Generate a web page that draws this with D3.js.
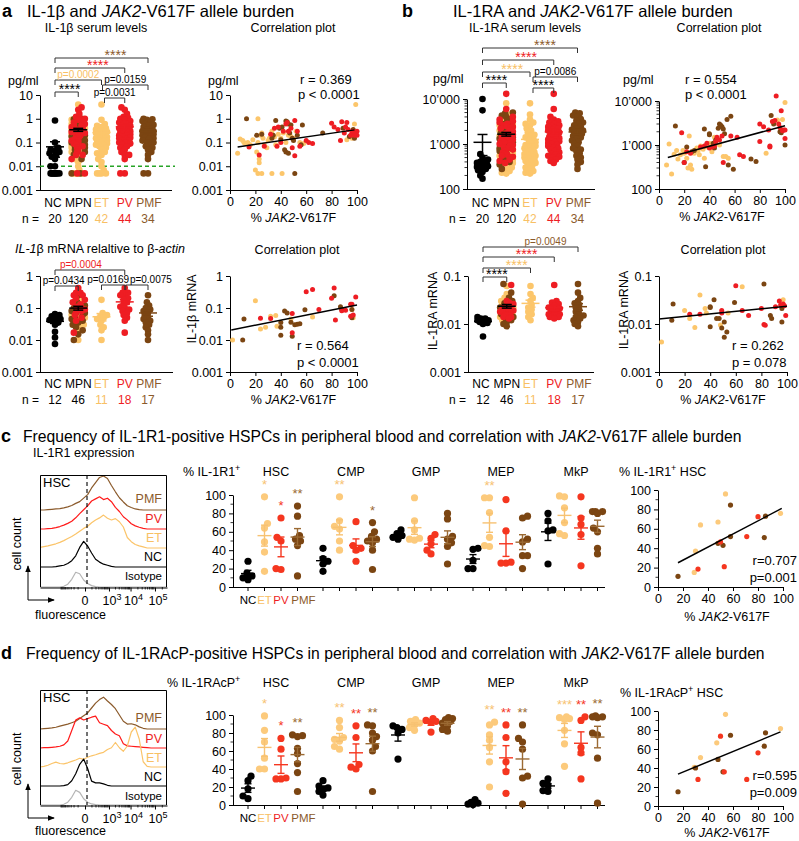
<!DOCTYPE html>
<html><head><meta charset="utf-8">
<script src="https://cdn.jsdelivr.net/npm/d3@7/dist/d3.min.js"></script>
<style>html,body{margin:0;padding:0;background:#fff;} svg{display:block;}</style>
</head><body>
<svg id="chart" width="799" height="841" viewBox="0 0 799 841"></svg>
<script>
// ================= DATA =================
const mainCats = ['NC','MPN','ET','PV','PMF'];
const nSerum = ['20','120','42','44','34'];
const nMrna = ['12','46','11','18','17'];

// IL-1beta serum (pg/ml)
const il1bSerumNC = [0.85,0.1,0.06,0.05,0.045,0.04,0.035,0.03,0.025,0.02,0.01,0.01,0.005,0.005,0.005,0.005,0.005,0.005,0.005,0.005];
const il1bSerumET = [4,0.9,0.6,0.5,0.45,0.4,0.35,0.3,0.3,0.28,0.25,0.22,0.2,0.2,0.18,0.17,0.15,0.15,0.14,0.13,0.12,0.12,0.11,0.1,0.1,0.09,0.08,0.08,0.07,0.06,0.05,0.04,0.035,0.03,0.02,0.015,0.01,0.007,0.005,0.005,0.005,0.005];
const il1bSerumPV = [3,2.4,1.6,1.2,1.1,1,0.9,0.8,0.7,0.6,0.6,0.5,0.5,0.45,0.4,0.4,0.35,0.3,0.3,0.28,0.25,0.25,0.22,0.2,0.2,0.18,0.16,0.15,0.14,0.12,0.12,0.1,0.1,0.09,0.08,0.07,0.06,0.05,0.04,0.03,0.03,0.02,0.005,0.005];
const il1bSerumPMF = [1,0.95,0.9,0.8,0.7,0.6,0.55,0.5,0.45,0.4,0.35,0.3,0.3,0.28,0.25,0.22,0.2,0.2,0.18,0.16,0.15,0.14,0.12,0.1,0.1,0.08,0.07,0.06,0.05,0.04,0.03,0.02,0.005,0.005];

// IL-1RA serum (pg/ml)
const il1raSerumNC = [10000,5600,600,500,450,420,400,380,360,350,340,330,320,310,300,280,260,240,200,170];
const il1raSerumET = [8000,4500,3500,2800,3000,2600,2200,2000,1800,1600,1500,1400,1300,1200,1100,1000,950,900,850,800,750,700,680,650,620,600,580,550,520,500,480,450,420,400,380,350,330,300,280,250,230,220];
const il1raSerumPV = [13000,6000,4000,3500,3200,3000,2800,2600,2500,2400,2300,2200,2100,2000,1900,1800,1700,1600,1500,1450,1400,1350,1300,1250,1200,1150,1100,1050,1000,950,900,850,800,750,700,650,600,580,550,520,500,450,420,380];
const il1raSerumPMF = [5000,4800,4300,4000,3600,3300,3000,2800,2600,2400,2200,2100,2000,1900,1800,1700,1600,1500,1400,1300,1200,1100,1000,900,800,750,700,620,550,500,450,400,350,280];

// IL-1beta mRNA relative to beta-actin
const il1bMrnaNC = [0.065,0.06,0.055,0.05,0.045,0.042,0.04,0.035,0.03,0.018,0.012,0.0075];
const il1bMrnaET = [0.18,0.07,0.06,0.055,0.05,0.045,0.04,0.03,0.025,0.02,0.01];
const il1bMrnaPV = [0.42,0.3,0.25,0.3,0.25,0.2,0.18,0.15,0.13,0.11,0.1,0.09,0.08,0.07,0.06,0.05,0.04,0.017];
const il1bMrnaPMF = [0.25,0.15,0.12,0.1,0.09,0.08,0.07,0.06,0.05,0.045,0.04,0.035,0.03,0.025,0.02,0.015,0.01];

// IL-1RA mRNA
const il1raMrnaNC = [0.014,0.013,0.013,0.012,0.012,0.012,0.011,0.011,0.011,0.0105,0.01,0.0055];
const il1raMrnaET = [0.062,0.042,0.035,0.03,0.025,0.022,0.02,0.018,0.016,0.014,0.012];
const il1raMrnaPV = [0.065,0.03,0.028,0.026,0.024,0.022,0.021,0.02,0.019,0.018,0.017,0.016,0.016,0.015,0.015,0.014,0.014,0.013];
const il1raMrnaPMF = [0.068,0.045,0.035,0.03,0.027,0.025,0.022,0.02,0.018,0.016,0.015,0.014,0.013,0.012,0.011,0.01,0.009];

// correlation plots: [ % JAK2-V617F , value ]
const corrA1ET = [[6,0.035],[8,0.14],[10,0.12],[11,0.1],[12,0.09],[14,0.1],[16,0.08],[18,0.13],[20,0.007],[21,0.04],[22,1.0],[22,0.1],[23,0.014],[23,0.02],[22,0.005],[24,0.2],[25,0.25],[25,0.005],[26,0.15],[27,0.08],[29,0.06],[30,0.12],[31,0.15],[33,0.005],[33,0.3],[34,0.2],[35,0.17],[36,0.08],[38,0.22],[40,0.15],[41,0.005],[42,0.25],[44,0.1],[46,0.2],[48,0.18],[50,0.15],[52,0.3],[55,0.1],[58,0.09],[92,0.13],[96,0.15],[98,0.6],[99,4.0]];
const corrA1PV = [[15,0.065],[23,0.03],[27,0.07],[32,0.22],[35,0.4],[37,0.07],[38,0.45],[40,0.1],[42,0.3],[44,0.6],[45,0.7],[46,0.3],[48,0.4],[49,0.06],[51,0.85],[51,0.028],[53,0.3],[55,0.07],[60,0.12],[62,0.1],[65,0.09],[80,0.65],[82,0.45],[85,0.35],[87,0.12],[88,0.75],[90,0.25],[91,0.45],[92,0.7],[93,0.35],[95,0.2],[96,0.25],[97,0.3],[98,0.2],[99,0.25],[100,0.2],[100,0.3]];
const corrA1PMF = [[13,1.0],[21,0.2],[25,0.22],[33,0.15],[34,0.2],[36,0.85],[39,0.4],[40,0.13],[41,0.45],[43,0.05],[44,0.04],[44,0.8],[45,0.75],[46,0.035],[46,0.6],[47,0.25],[48,0.55],[49,0.15],[50,0.12],[51,0.005],[53,0.2],[56,0.08],[57,0.55],[73,0.25],[89,0.4],[94,0.18],[97,0.35],[98,0.15]];
const fitA1 = [[6,0.065],[98,0.34]];

const corrB1ET = [[6,350],[8,1050],[10,220],[12,620],[14,750],[15,480],[17,600],[19,750],[20,650],[22,500],[23,300],[24,1600],[25,350],[26,280],[27,700],[28,650],[30,850],[31,750],[32,600],[33,950],[35,800],[36,500],[38,900],[40,1100],[42,700],[44,1500],[46,1400],[48,1000],[51,550],[53,550],[55,500],[85,650],[94,3700],[98,3800],[100,9300]];
const corrB1PV = [[18,1900],[20,400],[22,700],[25,650],[33,900],[36,950],[38,1100],[40,850],[42,900],[44,950],[45,1200],[46,1500],[48,1300],[50,1600],[51,400],[57,1600],[62,1500],[64,600],[67,550],[80,3000],[80,1200],[83,2600],[87,2200],[88,950],[88,900],[90,3400],[92,3600],[93,13000],[95,3000],[96,2500],[97,6000],[98,2100],[99,2200],[100,1400],[100,2200]];
const corrB1PMF = [[13,2700],[20,400],[22,900],[26,700],[28,750],[36,2300],[37,320],[40,1700],[40,1800],[43,1100],[44,850],[45,1300],[47,2400],[48,3000],[49,2800],[50,2600],[51,2300],[52,1800],[54,3800],[55,350],[57,4500],[59,280],[73,480],[77,420],[89,4700],[91,3000],[96,2000],[97,1900],[100,1000]];
const fitB1 = [[7,520],[100,2750]];

const corrA2ET = [[2,0.01],[20,0.17],[24,0.022],[28,0.025],[32,0.055],[36,0.058],[37,0.027],[48,0.045],[65,0.052],[96,0.09],[97,0.05]];
const corrA2PV = [[24,0.048],[32,0.047],[49,0.067],[49,0.017],[60,0.32],[65,0.38],[70,0.09],[80,0.2],[82,0.42],[83,0.042],[88,0.082],[91,0.085],[95,0.13],[96,0.13],[95,0.055],[97,0.06],[99,0.22]];
const corrA2PMF = [[10,0.01],[11,0.045],[40,0.035],[40,0.025],[40,0.014],[43,0.08],[45,0.07],[48,0.036],[49,0.013],[51,0.03],[53,0.031],[55,0.032],[59,0.088],[82,0.24],[87,0.11],[88,0.09],[96,0.09],[96,0.05]];
const fitA2 = [[1,0.0205],[100,0.124]];

const corrB2ET = [[2,0.0042],[20,0.019],[24,0.013],[28,0.0085],[32,0.04],[36,0.021],[37,0.017],[48,0.0095],[54,0.017],[65,0.06],[97,0.032]];
const corrB2PV = [[24,0.016],[32,0.016],[49,0.019],[49,0.017],[60,0.063],[65,0.019],[70,0.015],[80,0.021],[82,0.0098],[83,0.0094],[91,0.023],[94,0.03],[95,0.025],[97,0.026],[98,0.024],[99,0.015]];
const corrB2PMF = [[10,0.012],[11,0.026],[40,0.022],[40,0.023],[40,0.0088],[43,0.032],[45,0.013],[47,0.013],[49,0.0083],[51,0.011],[51,0.0053],[53,0.0068],[59,0.028],[82,0.068],[87,0.015],[88,0.013],[96,0.021],[96,0.011]];
const fitB2 = [[0,0.0127],[100,0.0235]];

// panels c / d : % positive HSPCs  (each group: [NC, ET, PV, PMF])
const hspcGroups = ['HSC','CMP','GMP','MEP','MkP'];
const subCats = ['NC','ET','PV','PMF'];
const il1r1HSC = [[28,15,12,10,8],[98,69,64,49,38,17],[75,54,50,20,19],[88,77,56,52,50,45,12]];
const il1r1CMP = [[42,31,28,25,17],[98,72,66,63,50,40],[71,45,42,40,28],[70,60,55,52,50,48,40,19]];
const il1r1GMP = [[62,58,56,54,52],[97,72,62,53,52,51],[57,53,47,40,36],[80,74,55,52,48,44,25]];
const il1r1MEP = [[42,41,29,20,20],[97,97,81,54,45,44],[95,61,26,26,27],[77,75,52,49,34,34,20]];
const il1r1MkP = [[80,72,62,61,25],[99,98,86,70,58,56],[98,75,68,57,23],[82,82,82,80,64,60,42,36]];
const il1racpHSC = [[32,27,18,10,7],[99,83,70,52,40,40],[74,62,30,29,29],[78,77,76,63,57,46,36,15]];
const il1racpCMP = [[27,21,19,18,15,11],[94,86,75,73,71,65,62],[88,75,45,42,40],[89,88,80,76,72,65,60,15]];
const il1racpGMP = [[88,86,84,80,51],[95,93,91,89,86,83],[96,94,93,92,81],[97,96,95,93,91,88,84,82]];
const il1racpMEP = [[6,3,2,1,0.5],[92,89,78,72,64,48,20],[89,75,48,37,13],[89,74,70,62,32,30,1]];
const il1racpMkP = [[29,24,22,16,15],[98,97,96,95,83,68,43],[98,94,64,58,29],[99,98,98,97,80,78,52,2]];
const starsC = [['HSC','ET','*'],['HSC','PV','*'],['HSC','PMF','**'],['CMP','ET','**'],['CMP','PMF','*'],['MEP','ET','**']];
const starsD = [['HSC','ET','*'],['HSC','PV','*'],['HSC','PMF','**'],['CMP','ET','**'],['CMP','PV','**'],['CMP','PMF','**'],['MEP','ET','**'],['MEP','PV','**'],['MEP','PMF','**'],['MkP','ET','***'],['MkP','PV','**'],['MkP','PMF','**']];

const corrC_ET = [[29,15],[30,37],[34,64],[48,67],[54,96],[98,76]];
const corrC_PV = [[32,18.5],[50,46.5],[53,21],[71,52],[80,72.5]];
const corrC_PMF = [[16,11],[48,45],[52,43],[58,84.5],[58,52],[85,51],[86,73]];
const fitC = [[16,25],[99,81]];
const corrD_ET = [[29,40.6],[34,51],[47,66.5],[54,96.5],[98,81.5]];
const corrD_PV = [[32,28],[50,73.5],[53,36],[71,28],[80,56]];
const corrD_PMF = [[16,15],[30,40],[48,49],[52,36],[58,74.5],[85,63],[86,77]];
const fitD = [[16,33.5],[98,78]];

// flow histograms: counts per 32-channel bin (0..1024)
const histC_PMF = [0,0,1,2,3,4,6,9,13,19,24,34,44,63,78,93,97,90,70,52,35,23,12,7,3,1,0,0,0,0,0,0,0];
const histC_PV  = [0,0,1,2,4,7,11,16,22,32,44,55,66,80,86,92,84,88,78,62,50,35,26,15,9,5,2,0,0,0,0,0,0];
const histC_ET  = [2,4,6,9,12,16,21,27,33,40,48,56,62,72,80,86,94,85,80,84,75,60,30,18,10,6,3,0,0,0,0,0,0];
const histC_NC  = [0,0,0,0,1,3,5,10,18,32,56,73,60,40,22,14,8,5,2,0,0,0,0,0,0,0,0,0,0,0,0,0,0];
const histC_Iso = [0,0,0,0,0,0,2,8,22,42,38,20,10,4,1,0,0,0,0,0,0,0,0,0,0,0,0,0,0,0,0,0,0];
const histD_PMF = [0,1,2,3,5,8,11,14,18,22,30,38,46,60,74,84,91,80,70,58,40,22,14,15,12,6,2,0,0,0,0,0,0];
const histD_PV  = [0,1,1,2,3,5,9,20,50,80,86,80,84,88,91,72,68,64,50,40,35,12,6,5,4,3,2,1,0,0,0,0,0];
const histD_ET  = [0,2,5,10,14,10,9,12,16,20,25,22,28,32,35,39,42,50,55,70,55,45,60,100,114,80,15,2,0,0,0,0,0];
const histD_NC  = [0,0,0,0,0,0,1,4,15,35,62,77,50,14,9,9,6,2,0,0,0,0,0,0,0,0,0,0,0,0,0,0,0];
const histD_Iso = [0,0,0,0,0,0,2,8,22,42,36,18,8,3,1,0,0,0,0,0,0,0,0,0,0,0,0,0,0,0,0,0,0];
const histRowLabels = ['PMF','PV','ET','NC','Isotype'];
const histTickCh = [363,556,730,927];
const histTickBase = ['0','10','10','10'];
const histTickExp = ['','3','4','5'];

// ================= STYLE =================
const F = '"Liberation Sans", Arial, Helvetica, sans-serif';
const COL = {NC:'#000000', MPN:'#000000', ET:'#fcc66b', PV:'#ee1d23', PMF:'#7b4512'};
const TXT = {NC:'#000000', MPN:'#000000', ET:'#f8c064', PV:'#ee1d23', PMF:'#8b5a2b'};
const COL2 = {NC:'#000000', ET:'#fcca7c', PV:'#f5361f', PMF:'#7b4512'};
const LINE2 = {NC:'#000000', ET:'#f7c272', PV:'#f5361f', PMF:'#9b6a33'};
const HCOL = {PMF:'#8b5a2b', PV:'#ff1a1a', ET:'#fbc469', NC:'#000000', Isotype:'#b5b5b5'};
const catShift = {NC: -2, MPN: 0, ET: 0, PV: 0, PMF: 1};

const svg = d3.select('#chart');
svg.append('rect').attr('width',799).attr('height',841).attr('fill','#fff');
const defs = svg.append('defs');
defs.append('marker').attr('id','arr').attr('viewBox','0 0 8 8').attr('refX',7).attr('refY',4)
  .attr('markerWidth',7).attr('markerHeight',7).attr('orient','auto')
  .append('path').attr('d','M0,0.8 L8,4 L0,7.2 z').attr('fill','#000');

function addText(x, y, segs, o = {}) {
  const size = o.size || 13;
  const t = svg.append('text').attr('x', x).attr('y', y)
    .attr('font-size', size).attr('fill', o.fill || '#000')
    .attr('text-anchor', o.anchor || 'start').attr('font-family', F);
  if (o.weight) t.attr('font-weight', o.weight);
  if (o.rotate) t.attr('transform', `rotate(-90 ${x} ${y})`);
  if (typeof segs === 'string') segs = [[segs]];
  let sup = false;
  segs.forEach(([s, st]) => {
    const ts = t.append('tspan').text(s);
    if (st && st.includes('i')) ts.attr('font-style', 'italic');
    if (st && st.includes('s')) { ts.attr('font-size', size * 0.72).attr('dy', -size * 0.42); sup = true; }
    else if (sup) { ts.attr('dy', size * 0.42); sup = false; }
  });
  return t;
}
function styleAxis(g, size) {
  g.attr('font-family', F);
  g.selectAll('text').attr('font-size', size).attr('font-family', F).attr('fill', '#000');
  g.selectAll('path,line').attr('stroke', '#000').attr('stroke-width', 1);
}
function swarm(ys, maxW, minD, step) {
  const order = d3.range(ys.length).sort((a, b) => ys[b] - ys[a] || a - b);
  const placed = [], off = new Array(ys.length);
  order.forEach((i, k) => {
    const sgn = k % 2 ? -1 : 1;
    const cands = [0];
    for (let s = step; s <= maxW + 1e-9; s += step) cands.push(sgn * s, -sgn * s);
    let best = 0, bestD = -1;
    for (const c of cands) {
      let md = Infinity;
      for (const p of placed) { const dx = p[0] - c, dy = p[1] - ys[i]; const d = Math.sqrt(dx*dx + dy*dy); if (d < md) md = d; }
      if (md >= minD) { best = c; bestD = md; break; }
      if (md > bestD + 0.01) { bestD = md; best = c; }
    }
    off[i] = best; placed.push([best, ys[i]]);
  });
  return off;
}
function minorLog(x0, y, dom) {
  const lo = Math.round(Math.log10(dom[0])), hi = Math.round(Math.log10(dom[1]));
  for (let d = lo; d < hi; d++) for (let k = 2; k <= 9; k++) {
    const v = k * Math.pow(10, d);
    svg.append('line').attr('x1', x0 - 2.5).attr('x2', x0 + 0.5).attr('y1', y(v)).attr('y2', y(v)).attr('stroke', '#000').attr('stroke-width', 0.8);
  }
}

// ============ dot plot (panels a,b) ============
function dotPanel(o) {
  const x = d3.scalePoint().domain(mainCats).range(o.xr);
  const y = d3.scaleLog().domain(o.dom).range(o.yr);
  const ax = svg.append('g').attr('transform', `translate(${o.ax},0)`)
    .call(d3.axisLeft(y).tickValues(o.ticks).tickFormat((d, i) => o.labels[i]).tickSize(4).tickSizeOuter(0));
  styleAxis(ax, 12.5);
  if (o.minor) minorLog(o.ax, y, o.dom);
  svg.append('line').attr('x1', o.ax).attr('x2', o.xe).attr('y1', o.yr[0] + 0.5).attr('y2', o.yr[0] + 0.5).attr('stroke', '#000');
  if (o.refLine) {
    svg.append('line').attr('x1', o.ax).attr('x2', o.xe + 3).attr('y1', y(o.refLine)).attr('y2', y(o.refLine))
      .attr('stroke', '#27a327').attr('stroke-width', 1.3).attr('stroke-dasharray', '4,3');
  }
  const d = o.data;
  const cols = [
    {c: 'NC', pts: d.NC.map(v => ({v, g: 'NC'})), w: 5.5},
    {c: 'MPN', pts: [].concat(d.ET.map(v => ({v, g: 'ET'})), d.PMF.map(v => ({v, g: 'PMF'})), d.PV.map(v => ({v, g: 'PV'}))), w: 7.5},
    {c: 'ET', pts: d.ET.map(v => ({v, g: 'ET'})), w: 6.5},
    {c: 'PV', pts: d.PV.map(v => ({v, g: 'PV'})), w: 6.5},
    {c: 'PMF', pts: d.PMF.map(v => ({v, g: 'PMF'})), w: 6.5}
  ];
  cols.forEach(col => {
    const ys = col.pts.map(p => y(p.v));
    const offs = swarm(ys, col.w, 3.8, 1.1);
    const cx = x(col.c);
    svg.append('g').selectAll('circle').data(col.pts).join('circle')
      .attr('cx', (p, i) => cx + offs[i]).attr('cy', (p, i) => ys[i]).attr('r', 3.3).attr('fill', p => COL[p.g]);
  });
  cols.forEach(col => {
    const vals = col.pts.map(p => p.v);
    const m = d3.mean(vals), se = d3.deviation(vals) / Math.sqrt(vals.length);
    const lo = Math.max(m - se, o.dom[0]);
    const cx = x(col.c), clr = (col.c === 'MPN' || col.c === 'NC') ? '#000' : COL[col.c];
    const g = svg.append('g').attr('stroke', clr).attr('stroke-width', 1.5);
    g.append('line').attr('x1', cx - 9).attr('x2', cx + 9).attr('y1', y(m)).attr('y2', y(m));
    g.append('line').attr('x1', cx).attr('x2', cx).attr('y1', y(lo)).attr('y2', y(m + se));
    g.append('line').attr('x1', cx - 5).attr('x2', cx + 5).attr('y1', y(lo)).attr('y2', y(lo));
    g.append('line').attr('x1', cx - 5).attr('x2', cx + 5).attr('y1', y(m + se)).attr('y2', y(m + se));
  });
  mainCats.forEach(c => addText(x(c) + catShift[c], o.catY, c, {size: 12, anchor: 'middle', fill: TXT[c]}));
  addText(o.nX, o.catY + 16, 'n =', {size: 12});
  o.n.forEach((n, i) => addText(x(mainCats[i]), o.catY + 16, n, {size: 12, anchor: 'middle', fill: TXT[mainCats[i]]}));
  o.brackets.forEach((b, i) => {
    const L = o.bLayout[i];
    const xa = x(b[0]) + (L.x1 || 0), xb = x(b[1]) + (L.x2 || 0), yy = L.y;
    svg.append('path').attr('d', `M${xa},${yy + 5}V${yy}H${xb}V${yy + 5}`).attr('fill', 'none').attr('stroke', '#333').attr('stroke-width', 1);
    const star = b[2].startsWith('*');
    addText((xa + xb) / 2 + (L.dx || 0), star ? yy + 2 : yy - 2.4, b[2], {size: star ? 14 : 10, anchor: 'middle', fill: TXT[b[3]]});
  });
  return {x, y};
}

// ============ correlation plot (log y) ============
function corrPanel(o) {
  const x = d3.scaleLinear().domain([0, 100]).range(o.xr);
  const y = d3.scaleLog().domain(o.dom).range(o.yr);
  const ay = svg.append('g').attr('transform', `translate(${o.xr[0]},0)`)
    .call(d3.axisLeft(y).tickValues(o.ticks).tickFormat((d, i) => o.labels[i]).tickSize(4).tickSizeOuter(0));
  styleAxis(ay, 12.5);
  if (o.minor) minorLog(o.xr[0], y, o.dom);
  const axx = svg.append('g').attr('transform', `translate(0,${o.yr[0]})`)
    .call(d3.axisBottom(x).tickValues([0, 20, 40, 60, 80, 100]).tickSize(4).tickSizeOuter(0));
  styleAxis(axx, 12.5);
  o.series.forEach(s => {
    svg.append('g').selectAll('circle').data(s.pts).join('circle')
      .attr('cx', p => x(p[0])).attr('cy', p => y(p[1])).attr('r', 2.5).attr('fill', COL[s.g]);
  });
  svg.append('path').attr('d', d3.line().x(p => x(p[0])).y(p => y(p[1]))(o.fit)).attr('stroke', '#000').attr('stroke-width', 1.5).attr('fill', 'none');
  addText((o.xr[0] + o.xr[1]) / 2, o.yr[0] + 32, [['% '], ['JAK2', 'i'], ['-V617F']], {size: 12.5, anchor: 'middle'});
}

// ================= PANEL a =================
addText(2, 17, 'a', {size: 18, weight: 'bold'});
addText(27, 17, [['IL-1β and '], ['JAK2', 'i'], ['-V617F allele burden']], {size: 16.5});
addText(96, 32, 'IL-1β serum levels', {size: 12.5, anchor: 'middle'});
addText(8, 85, 'pg/ml', {size: 12.5});
dotPanel({xr: [55, 148], dom: [0.001, 10], yr: [190, 95], ax: 40, xe: 172,
  ticks: [0.001, 0.01, 0.1, 1, 10], labels: ['0.001', '0.01', '0.1', '1', '10'], refLine: 0.01,
  data: {NC: il1bSerumNC, ET: il1bSerumET, PV: il1bSerumPV, PMF: il1bSerumPMF},
  catY: 207, nX: 22, n: nSerum,
  brackets: [['NC','PMF','****','PMF'],['NC','PV','****','PV'],['NC','ET','p=0.0002','ET'],['ET','PMF','p=0.0159','NC'],['NC','MPN','****','NC'],['ET','PV','p=0.0031','NC']],
  bLayout: [{y: 58, dx: 14}, {y: 68, dx: 8}, {y: 80}, {y: 85, x1: 1}, {y: 92, dx: 3}, {y: 98, x1: 3}]
});
addText(293, 32, 'Correlation plot', {size: 12.5, anchor: 'middle'});
addText(208, 85, 'pg/ml', {size: 12.5});
addText(300, 84, 'r = 0.369', {size: 13});
addText(298, 99, 'p < 0.0001', {size: 13});
corrPanel({xr: [230, 357], dom: [0.001, 10], yr: [190, 95], ticks: [0.001, 0.01, 0.1, 1, 10], labels: ['0.001', '0.01', '0.1', '1', '10'],
  series: [{g: 'ET', pts: corrA1ET}, {g: 'PMF', pts: corrA1PMF}, {g: 'PV', pts: corrA1PV}], fit: fitA1});

addText(100, 253, [['IL-1', 'i'], ['β mRNA relaltive to β-'], ['actin', 'i']], {size: 12.5, anchor: 'middle'});
dotPanel({xr: [55, 148], dom: [0.001, 1], yr: [372, 276], ax: 40, xe: 173,
  ticks: [0.001, 0.01, 0.1, 1], labels: ['0.001', '0.01', '0.1', '1'],
  data: {NC: il1bMrnaNC, ET: il1bMrnaET, PV: il1bMrnaPV, PMF: il1bMrnaPMF},
  catY: 388, nX: 22, n: nMrna,
  brackets: [['NC','PV','p=0.0004','PV'],['NC','MPN','p=0.0434','NC'],['ET','PV','p=0.0169','NC'],['PV','PMF','p=0.0075','NC']],
  bLayout: [{y: 270, dx: -9}, {y: 286, dx: -3}, {y: 285, dx: -5}, {y: 285, dx: 14, x1: 1}]
});
addText(297, 254, 'Correlation plot', {size: 12.5, anchor: 'middle'});
addText(196, 309, 'IL-1β mRNA', {size: 12.5, anchor: 'middle', rotate: true});
addText(297, 350, 'r = 0.564', {size: 13});
addText(297, 367, 'p < 0.0001', {size: 13});
corrPanel({xr: [230, 357], dom: [0.001, 1], yr: [372, 276], ticks: [0.001, 0.01, 0.1, 1], labels: ['0.001', '0.01', '0.1', '1'],
  series: [{g: 'ET', pts: corrA2ET}, {g: 'PMF', pts: corrA2PMF}, {g: 'PV', pts: corrA2PV}], fit: fitA2});

// ================= PANEL b =================
addText(402, 17, 'b', {size: 18, weight: 'bold'});
addText(453, 17, [['IL-1RA and '], ['JAK2', 'i'], ['-V617F allele burden']], {size: 16.5});
addText(525, 32, 'IL-1RA serum levels', {size: 12.5, anchor: 'middle'});
addText(433, 83, 'pg/ml', {size: 12.5});
dotPanel({xr: [482.5, 577.5], dom: [100, 10000], yr: [189, 99], ax: 467, xe: 595,
  ticks: [100, 1000, 10000], labels: ['100', '1’000', '10’000'], minor: true,
  data: {NC: il1raSerumNC, ET: il1raSerumET, PV: il1raSerumPV, PMF: il1raSerumPMF},
  catY: 207, nX: 449, n: nSerum,
  brackets: [['NC','PMF','****','PMF'],['NC','PV','****','PV'],['NC','ET','****','ET'],['ET','PMF','p=0.0086','NC'],['NC','MPN','****','NC'],['ET','PV','****','NC']],
  bLayout: [{y: 48, dx: 15}, {y: 60, dx: 8}, {y: 72, dx: 6}, {y: 77, x1: 3}, {y: 83, dx: 2}, {y: 88, x1: 3}]
});
addText(719, 32, 'Correlation plot', {size: 12.5, anchor: 'middle'});
addText(623, 84, 'pg/ml', {size: 12.5});
addText(685, 84, 'r = 0.554', {size: 13});
addText(685, 99, 'p < 0.0001', {size: 13});
corrPanel({xr: [659, 785], dom: [100, 10000], yr: [189, 101], ticks: [100, 1000, 10000], labels: ['100', '1’000', '10’000'], minor: true,
  series: [{g: 'ET', pts: corrB1ET}, {g: 'PMF', pts: corrB1PMF}, {g: 'PV', pts: corrB1PV}], fit: fitB1});

addText(437, 311, 'IL-1RA mRNA', {size: 12.5, anchor: 'middle', rotate: true});
dotPanel({xr: [483, 578], dom: [0.001, 0.1], yr: [372, 276], ax: 468, xe: 594,
  ticks: [0.001, 0.01, 0.1], labels: ['0.001', '0.01', '0.1'],
  data: {NC: il1raMrnaNC, ET: il1raMrnaET, PV: il1raMrnaPV, PMF: il1raMrnaPMF},
  catY: 388, nX: 449, n: nMrna,
  brackets: [['NC','PMF','p=0.0049','PMF'],['NC','PV','****','PV'],['NC','ET','****','ET'],['NC','MPN','****','NC']],
  bLayout: [{y: 247, dx: 15}, {y: 257, dx: 8}, {y: 268, dx: 10}, {y: 277, dx: 2}]
});
addText(723, 254, 'Correlation plot', {size: 12.5, anchor: 'middle'});
addText(628, 310, 'IL-1RA mRNA', {size: 12.5, anchor: 'middle', rotate: true});
addText(732, 350, 'r = 0.262', {size: 13});
addText(732, 367, 'p = 0.078', {size: 13});
corrPanel({xr: [659, 787], dom: [0.001, 0.1], yr: [372, 276], ticks: [0.001, 0.01, 0.1], labels: ['0.001', '0.01', '0.1'],
  series: [{g: 'ET', pts: corrB2ET}, {g: 'PMF', pts: corrB2PMF}, {g: 'PV', pts: corrB2PV}], fit: fitB2});

// ================= histograms =================
function histPanel(o) {
  const x = d3.scaleLinear().domain([0, 1024]).range([40, 167]);
  const h = d3.scaleLinear().domain([0, 100]).range([0, 35]);
  const bins = d3.range(0, 1025, 32);
  const bottom = o.base[4];
  o.curves.forEach((c, i) => {
    const key = histRowLabels[i];
    svg.append('path').attr('d', d3.line().x((v, j) => x(bins[j])).y(v => o.base[i] - h(v))(c))
      .attr('fill', 'none').attr('stroke', HCOL[key]).attr('stroke-width', 1.2).attr('stroke-linejoin', 'round');
  });
  svg.append('path').attr('d', `M40.5,${bottom}V${o.top + 0.5}H166.5V${bottom}`).attr('fill', 'none').attr('stroke', '#000');
  const ax = svg.append('g').attr('transform', `translate(0,${bottom + 0.5})`)
    .call(d3.axisBottom(x).tickValues(histTickCh).tickFormat('').tickSize(4).tickSizeOuter(0));
  styleAxis(ax, 12);
  const minors = [];
  for (let v = 100; v <= 900; v += 100) {
    const f = 193 * Math.log10(1 + v / 100) / Math.log10(11);
    minors.push(363 + f, 363 - f);
  }
  minors.push(363 - 193);
  [[556, 730], [730, 927], [927, 1124]].forEach(([a, b]) => { for (let k = 2; k <= 9; k++) minors.push(a + Math.log10(k) * (b - a)); });
  minors.filter(c => c > 20 && c < 1020).forEach(c => {
    svg.append('line').attr('x1', x(c)).attr('x2', x(c)).attr('y1', bottom).attr('y2', bottom + 2.5).attr('stroke', '#000').attr('stroke-width', 0.8);
  });
  histTickCh.forEach((c, i) => {
    const segs = histTickExp[i] ? [[histTickBase[i]], [histTickExp[i], 's']] : [[histTickBase[i]]];
    addText(x(c) + (histTickExp[i] ? 3 : 0), bottom + 18, segs, {size: 12.5, anchor: 'middle'});
  });
  svg.append('line').attr('x1', x(379)).attr('x2', x(379)).attr('y1', o.top).attr('y2', bottom)
    .attr('stroke', '#000').attr('stroke-width', 1.1).attr('stroke-dasharray', '4,3');
  addText(43, o.top + 12, 'HSC', {size: 13});
  histRowLabels.forEach((l, i) => addText(162, o.labelY[i], l, {size: l === 'Isotype' ? 11.5 : 12.5, anchor: 'end', fill: l === 'Isotype' ? '#000' : TXT[l]}));
  svg.append('line').attr('x1', 28).attr('x2', 28).attr('y1', bottom + 13).attr('y2', bottom - 21).attr('stroke', '#000').attr('marker-end', 'url(#arr)');
  svg.append('line').attr('x1', 28).attr('x2', 54).attr('y1', bottom + 13).attr('y2', bottom + 13).attr('stroke', '#000').attr('marker-end', 'url(#arr)');
  addText(21, o.ccY, 'cell count', {size: 12.5, anchor: 'middle', rotate: true});
  addText(35, o.flY, 'fluorescence', {size: 12.5});
}

// ================= HSPC dot plots =================
function hspcPanel(o) {
  const y = d3.scaleLinear().domain([0, 100]).range([o.bot, o.top]);
  const xg = d3.scalePoint().domain(hspcGroups).range([248, 548]);
  const xs = d3.scalePoint().domain(subCats).range([0, 49.5]);
  const ax = svg.append('g').attr('transform', `translate(233,0)`)
    .call(d3.axisLeft(y).tickValues([0, 20, 40, 60, 80, 100]).tickSize(4).tickSizeOuter(0));
  styleAxis(ax, 12.5);
  [10, 30, 50, 70, 90].forEach(v => svg.append('line').attr('x1', 230.5).attr('x2', 233.5).attr('y1', y(v)).attr('y2', y(v)).attr('stroke', '#000').attr('stroke-width', 0.8));
  svg.append('line').attr('x1', 233).attr('x2', 605).attr('y1', o.bot + 0.5).attr('y2', o.bot + 0.5).attr('stroke', '#000');
  hspcGroups.forEach((g, gi) => {
    addText(xg(g) + 28, o.labY, g, {size: 12.5, anchor: 'middle'});
    subCats.forEach((s, si) => {
      const cx = xg(g) + xs(s);
      svg.append('line').attr('x1', cx).attr('x2', cx).attr('y1', o.bot).attr('y2', o.bot + 4).attr('stroke', '#000');
      const vals = o.data[gi][si];
      const ys = vals.map(v => y(v));
      const offs = swarm(ys, 5, 5.2, 1);
      svg.append('g').selectAll('circle').data(vals).join('circle')
        .attr('cx', (v, i) => cx + offs[i]).attr('cy', (v, i) => ys[i]).attr('r', 3.6).attr('fill', COL2[s]);
      const m = d3.mean(vals), se = d3.deviation(vals) / Math.sqrt(vals.length);
      const gg = svg.append('g').attr('stroke', LINE2[s]).attr('stroke-width', 1.4);
      gg.append('line').attr('x1', cx - 7).attr('x2', cx + 7).attr('y1', y(m)).attr('y2', y(m));
      gg.append('line').attr('x1', cx).attr('x2', cx).attr('y1', y(m - se)).attr('y2', y(m + se));
      gg.append('line').attr('x1', cx - 3.5).attr('x2', cx + 3.5).attr('y1', y(m - se)).attr('y2', y(m - se));
      gg.append('line').attr('x1', cx - 3.5).attr('x2', cx + 3.5).attr('y1', y(m + se)).attr('y2', y(m + se));
    });
  });
  subCats.forEach(s => addText(xg('HSC') + xs(s) + (s === 'PMF' ? 6 : 0), o.catY, s, {size: 11.5, anchor: 'middle', fill: s === 'NC' ? '#000' : TXT[s]}));
  o.stars.forEach(([g, s, t]) => {
    const gi = hspcGroups.indexOf(g), si = subCats.indexOf(s);
    const mx = d3.max(o.data[gi][si]);
    addText(xg(g) + xs(s), y(mx) - 8, t, {size: 13, anchor: 'middle', fill: LINE2[s]});
  });
}

function corrLin(o) {
  const x = d3.scaleLinear().domain([0, 100]).range([658, 783]);
  const y = d3.scaleLinear().domain([0, 100]).range([o.bot, o.top]);
  const ay = svg.append('g').attr('transform', `translate(658,0)`)
    .call(d3.axisLeft(y).tickValues([0, 20, 40, 60, 80, 100]).tickSize(4).tickSizeOuter(0));
  styleAxis(ay, 12.5);
  [10, 30, 50, 70, 90].forEach(v => svg.append('line').attr('x1', 655.5).attr('x2', 658.5).attr('y1', y(v)).attr('y2', y(v)).attr('stroke', '#000').attr('stroke-width', 0.8));
  const axx = svg.append('g').attr('transform', `translate(0,${o.bot})`)
    .call(d3.axisBottom(x).tickValues([0, 20, 40, 60, 80, 100]).tickSize(4).tickSizeOuter(0));
  styleAxis(axx, 12.5);
  o.series.forEach(s => {
    svg.append('g').selectAll('circle').data(s.pts).join('circle')
      .attr('cx', p => x(p[0])).attr('cy', p => y(p[1])).attr('r', 2.6).attr('fill', COL2[s.g]);
  });
  svg.append('path').attr('d', d3.line().x(p => x(p[0])).y(p => y(p[1]))(o.fit)).attr('stroke', '#000').attr('stroke-width', 1.5).attr('fill', 'none');
  addText(727, o.jY, [['% '], ['JAK2', 'i'], ['-V617F']], {size: 12.5, anchor: 'middle'});
  addText(797, o.rY, o.r, {size: 13, anchor: 'end'});
  addText(797, o.rY + 17, o.p, {size: 13, anchor: 'end'});
}

// ================= PANEL c =================
addText(1, 442, 'c', {size: 18, weight: 'bold'});
addText(23, 442, [['Frequency of IL-1R1-positive HSPCs in peripheral blood and correlation with '], ['JAK2', 'i'], ['-V617F allele burden']], {size: 15.7});
addText(33, 457, 'IL-1R1 expression', {size: 12.5});
histPanel({top: 475, base: [510, 529, 548, 567, 587], curves: [histC_PMF, histC_PV, histC_ET, histC_NC, histC_Iso],
  labelY: [503, 523, 542, 561, 580], ccY: 544, flY: 619});
addText(183, 476, [['% IL-1R1'], ['+', 's']], {size: 12.5});
hspcPanel({top: 495, bot: 587, labY: 476, catY: 604, stars: starsC,
  data: [il1r1HSC, il1r1CMP, il1r1GMP, il1r1MEP, il1r1MkP]});
addText(619, 476, [['% IL-1R1'], ['+', 's'], [' HSC']], {size: 12.5});
corrLin({top: 490, bot: 587, fit: fitC, r: 'r=0.707', p: 'p=0.001', rY: 565, jY: 621,
  series: [{g: 'ET', pts: corrC_ET}, {g: 'PMF', pts: corrC_PMF}, {g: 'PV', pts: corrC_PV}]});

// ================= PANEL d =================
addText(1, 659, 'd', {size: 18, weight: 'bold'});
addText(26, 659, [['Frequency of IL-1RAcP-positive HSPCs in peripheral blood and correlation with '], ['JAK2', 'i'], ['-V617F allele burden']], {size: 15.7});
histPanel({top: 690, base: [729, 748, 767, 786, 805], curves: [histD_PMF, histD_PV, histD_ET, histD_NC, histD_Iso],
  labelY: [722, 743, 762, 781, 800], ccY: 759, flY: 835});
addText(167, 687, [['% IL-1RAcP'], ['+', 's']], {size: 12.5});
hspcPanel({top: 715, bot: 805, labY: 687, catY: 822, stars: starsD,
  data: [il1racpHSC, il1racpCMP, il1racpGMP, il1racpMEP, il1racpMkP]});
addText(620, 697, [['% IL-1RAcP'], ['+', 's'], [' HSC']], {size: 12.5});
corrLin({top: 711, bot: 806, fit: fitD, r: 'r=0.595', p: 'p=0.009', rY: 780, jY: 837,
  series: [{g: 'ET', pts: corrD_ET}, {g: 'PMF', pts: corrD_PMF}, {g: 'PV', pts: corrD_PV}]});
</script>
</body></html>
